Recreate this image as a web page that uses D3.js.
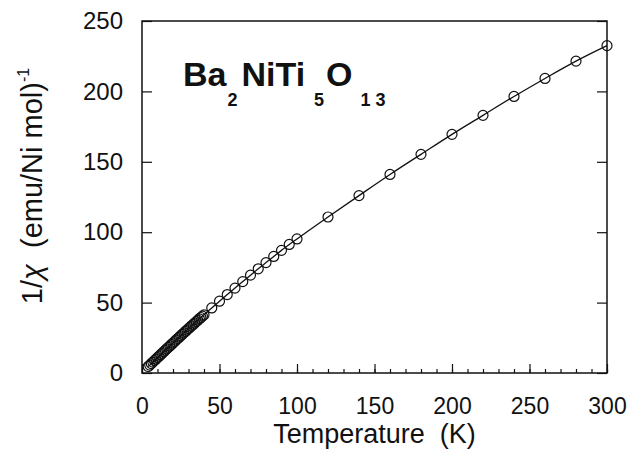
<!DOCTYPE html>
<html>
<head>
<meta charset="utf-8">
<script src="https://cdn.jsdelivr.net/npm/d3@7"></script>
<style>
  body { margin: 0; background: #fff; }
  svg text { font-family: "Liberation Sans", Arial, sans-serif; fill: #111; }
</style>
</head>
<body>
<svg id="chart"></svg>
<script>
// Measured points: temperature (K) and inverse susceptibility
const temps = [
  4, 5, 6, 7, 8, 9, 10, 11, 12, 13, 14, 15, 16, 17, 18, 19, 20, 21, 22, 23,
  24, 25, 26, 27, 28, 29, 30, 31, 32, 33, 34, 35, 36, 37, 38, 39, 40,
  45, 50, 55, 60, 65, 70, 75, 80, 85, 90, 95, 100,
  120, 140, 160, 180, 200, 220, 240, 260, 280, 300
];
const invChi = [
  4.6, 5.6, 6.7, 7.7, 8.8, 9.8, 10.9, 11.9, 13.0, 14.0, 15.1, 16.1, 17.2, 18.2, 19.2, 20.3, 21.3, 22.3, 23.4, 24.4,
  25.4, 26.4, 27.5, 28.5, 29.5, 30.5, 31.5, 32.5, 33.5, 34.5, 35.5, 36.5, 37.5, 38.5, 39.4, 40.4, 41.3,
  46.2, 51.0, 55.7, 60.3, 64.9, 69.5, 74.0, 78.4, 82.8, 87.1, 91.3, 95.2,
  110.8, 126.0, 141.0, 155.3, 169.5, 183.0, 196.4, 209.2, 221.5, 232.5
];

const xTicks = [0, 50, 100, 150, 200, 250, 300];
const xMinorTicks = d3.range(0, 301, 10);
const yTicks = [0, 50, 100, 150, 200, 250];

const config = {
  containerWidth: 631,
  containerHeight: 449,
  margin: { top: 21, right: 24, bottom: 76, left: 142 }
};
config.width = config.containerWidth - config.margin.left - config.margin.right;
config.height = config.containerHeight - config.margin.top - config.margin.bottom;

const data = temps.map((t, i) => ({ t: t, v: invChi[i] }));

const svg = d3.select('#chart')
  .attr('width', config.containerWidth)
  .attr('height', config.containerHeight);

const chart = svg.append('g')
  .attr('transform', `translate(${config.margin.left},${config.margin.top})`);

const xScale = d3.scaleLinear().domain([0, 300]).range([0, config.width]);
const yScale = d3.scaleLinear().domain([0, 250]).range([config.height, 0]);

// frame
chart.append('rect')
  .attr('width', config.width)
  .attr('height', config.height)
  .attr('fill', 'none')
  .attr('stroke', '#111')
  .attr('stroke-width', 1.5);

// bottom axis: minor ticks every 10, major every 50, all pointing inward
const xAxisG = chart.append('g')
  .attr('transform', `translate(0,${config.height})`);
xAxisG.call(d3.axisBottom(xScale).tickValues(xMinorTicks).tickSize(-4).tickFormat(''));
xAxisG.append('g').call(d3.axisBottom(xScale).tickValues(xTicks).tickSize(-9).tickFormat(d3.format('d')));
xAxisG.selectAll('.domain').remove();
xAxisG.selectAll('line').attr('stroke', '#111').attr('stroke-width', 1.2);
xAxisG.selectAll('text')
  .attr('font-size', 23)
  .attr('fill', '#111')
  .attr('dy', 0)
  .attr('y', 41);

// left axis
const yAxisG = chart.append('g')
  .call(d3.axisLeft(yScale).tickValues(yTicks).tickSize(-10).tickFormat(d3.format('d')));
yAxisG.selectAll('.domain').remove();
yAxisG.selectAll('line').attr('stroke', '#111').attr('stroke-width', 1.2);
yAxisG.selectAll('text')
  .attr('font-size', 24)
  .attr('fill', '#111')
  .attr('x', -19);

// right axis ticks
const yAxisR = chart.append('g')
  .attr('transform', `translate(${config.width},0)`)
  .call(d3.axisRight(yScale).tickValues(yTicks).tickSize(-10).tickFormat(''));
yAxisR.selectAll('.domain').remove();
yAxisR.selectAll('line').attr('stroke', '#111').attr('stroke-width', 1.2);

// fitted line
const line = d3.line()
  .x(d => xScale(d.t))
  .y(d => yScale(d.v))
  .curve(d3.curveMonotoneX);

chart.append('path')
  .datum(data)
  .attr('d', line)
  .attr('fill', 'none')
  .attr('stroke', '#111')
  .attr('stroke-width', 1.3);

// open circles
chart.selectAll('.pt')
  .data(data)
  .join('circle')
  .attr('class', 'pt')
  .attr('cx', d => xScale(d.t))
  .attr('cy', d => yScale(d.v))
  .attr('r', 5)
  .attr('fill', 'none')
  .attr('stroke', '#111')
  .attr('stroke-width', 1.2);

// axis titles
svg.append('text')
  .attr('x', config.margin.left + config.width / 2)
  .attr('y', 443)
  .attr('text-anchor', 'middle')
  .attr('font-size', 27)
  .style('white-space', 'pre')
  .text('Temperature  (K)');

const yTitle = svg.append('text')
  .attr('transform', 'translate(42,186) rotate(-90)')
  .attr('text-anchor', 'middle')
  .attr('font-size', 29)
  .style('white-space', 'pre');
yTitle.append('tspan').text('1/');
yTitle.append('tspan').attr('font-style', 'italic').text('χ');
yTitle.append('tspan').text('  (emu/Ni mol)');
yTitle.append('tspan').attr('font-size', 16).attr('dy', -13).text('-1');

// compound label
const label = svg.append('text')
  .attr('x', 183)
  .attr('y', 86)
  .attr('font-weight', 'bold')
  .attr('font-size', 34);
label.append('tspan').text('Ba');
label.append('tspan').attr('font-size', 18).attr('dy', 20).attr('dx', 1).text('2');
label.append('tspan').attr('dy', -20).attr('dx', 4).text('NiTi');
label.append('tspan').attr('font-size', 18).attr('dy', 20).attr('dx', 9).text('5');
label.append('tspan').attr('dy', -20).attr('dx', 2).text('O');
label.append('tspan').attr('font-size', 18).attr('dy', 20).attr('dx', 8).attr('letter-spacing', 5).text('13');
</script>
</body>
</html>
